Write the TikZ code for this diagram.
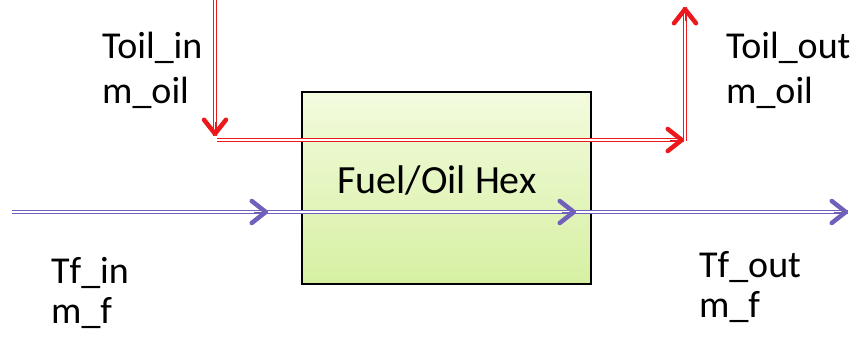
\documentclass[tikz,border=0pt]{standalone}
\usepackage{fontspec}
\setmainfont{Carlito}
\usetikzlibrary{arrows.meta,calc}
\definecolor{oilred}{RGB}{236,24,28}
\definecolor{fuelpurple}{RGB}{112,96,188}
\definecolor{hextop}{RGB}{243,251,222}
\definecolor{hexbot}{RGB}{214,240,162}
\begin{document}
\begin{tikzpicture}[x=1pt,y=-1pt,
  lbl/.style={anchor=base west, inner sep=0pt, font=\fontsize{38}{45}\selectfont},
  barb/.style={line width=0.5pt,
    -{Straight Barb[length=14pt,width=22pt,line width=4.5pt,line cap=round,line join=round]}},
  oilpipe/.style={draw=oilred, double=white, double distance=1.6pt, line width=1.6pt},
  fuelpipe/.style={draw=fuelpurple, double=white, double distance=1.4pt, line width=1.5pt},
  oilhead/.style={barb, draw=oilred},
  fuelhead/.style={barb, draw=fuelpurple},
  hexbox/.style={draw=black, line width=1.5pt, top color=hextop, bottom color=hexbot,
    minimum width=289pt, minimum height=192pt, inner sep=0pt, anchor=north west}
]
\useasboundingbox (0,0) rectangle (851,337);

% heat exchanger body
\node[hexbox] (hex) at (301,91) {};
\node[lbl, anchor=base, font=\fontsize{40}{46}\selectfont] (hexlabel) at (437,193) {Fuel/Oil Hex};

% oil circuit: double pipe, solid barb at each end
\coordinate (oilsrc) at (215,0);
\coordinate (oildown) at (215,136);
\coordinate (oilleft) at (217,140);
\coordinate (oilright) at (684,140);
\coordinate (oilup) at (685,141);
\coordinate (oilexit) at (685,7);
\draw[oilpipe] (oilsrc) -- (oildown);
\draw[oilpipe] (oilleft) -- (oilright);
\draw[oilpipe] (oilup) -- (oilexit);
\draw[oilhead] ($(oildown)+(0,-14)$) -- (oildown);
\draw[oilhead] ($(oilright)+(-14,0)$) -- (oilright);
\draw[oilhead] ($(oilexit)+(0,14)$) -- (oilexit);

% fuel line
\coordinate (fuelsrc) at (12,212);
\coordinate (fuelin) at (268,212);
\coordinate (fuelmid) at (576,212);
\coordinate (fuelexit) at (848,212);
\draw[fuelpipe] (fuelsrc) -- (fuelin);
\draw[fuelpipe] (fuelin) -- (fuelmid);
\draw[fuelpipe] (fuelmid) -- (fuelexit);
\draw[fuelhead] ($(fuelin)+(-14,0)$) -- (fuelin);
\draw[fuelhead] ($(fuelmid)+(-14,0)$) -- (fuelmid);
\draw[fuelhead] ($(fuelexit)+(-14,0)$) -- (fuelexit);

% stream labels
\node[lbl] (toilin) at (102,59) {Toil\_in};
\node[lbl] (moilin) at (102,103) {m\_oil};
\node[lbl] (toilout) at (726,59) {Toil\_out};
\node[lbl] (moilout) at (726,103) {m\_oil};
\node[lbl] (tfin) at (51,283) {Tf\_in};
\node[lbl] (mfin) at (51,323) {m\_f};
\node[lbl] (tfout) at (699,277) {Tf\_out};
\node[lbl] (mfout) at (699,317) {m\_f};
\end{tikzpicture}
\end{document}
